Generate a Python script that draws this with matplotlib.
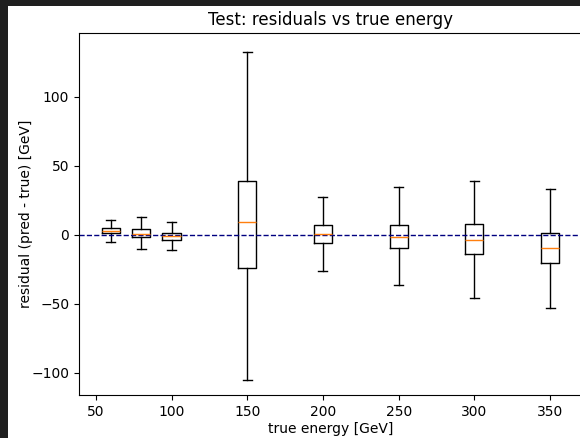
import matplotlib
matplotlib.use("Agg")
import matplotlib.pyplot as plt
from matplotlib.patches import Rectangle

# Residual summaries per true-energy bin [GeV]
energies = [60, 80, 100, 150, 200, 250, 300, 350]
whisker_low = [-5.5, -10.7, -10.8, -105.3, -26.5, -36.7, -45.7, -53.5]
q1 = [0.9, -2.0, -3.9, -23.9, -6.4, -10.0, -14.2, -20.9]
medians = [2.9, 0.6, -1.3, 9.1, 0.1, -1.8, -3.8, -9.8]
q3 = [4.5, 4.0, 1.3, 39.1, 7.1, 7.1, 7.4, 0.9]
whisker_high = [10.5, 13.0, 9.2, 132.7, 27.3, 34.3, 38.7, 32.9]

stats = [
    dict(med=m, q1=a, q3=b, whislo=lo, whishi=hi, fliers=[])
    for m, a, b, lo, hi in zip(medians, q1, q3, whisker_low, whisker_high)
]

fig = plt.figure(figsize=(5.8, 4.38), dpi=100)
fig.patch.set_facecolor("white")

# dark frame strips along the left and top edges
W, H = 580.0, 438.0
fig.patches.append(Rectangle((0, 0), 8 / W, 1, transform=fig.transFigure,
                             facecolor="#1f1f1f", edgecolor="none", zorder=-10))
fig.patches.append(Rectangle((0, 1 - 6 / H), 1, 6 / H, transform=fig.transFigure,
                             facecolor="#1f1f1f", edgecolor="none", zorder=-10))

ax = fig.add_axes([79 / W, 1 - 395 / H, 503 / W, 362 / H])
ax.bxp(stats, positions=energies, widths=12, showfliers=False,
       manage_ticks=False)
ax.axhline(0, color="navy", linestyle="--", linewidth=1)

ax.set_ylim(-116.3, 146.2)
ax.set_xticks([50, 100, 150, 200, 250, 300, 350])
ax.set_yticks([-100, -50, 0, 50, 100])
ax.set_title("Test: residuals vs true energy")
ax.set_xlabel("true energy [GeV]", labelpad=2)
ax.set_ylabel("residual (pred - true) [GeV]", labelpad=-1.5)

fig.savefig("out.png", dpi=100)
